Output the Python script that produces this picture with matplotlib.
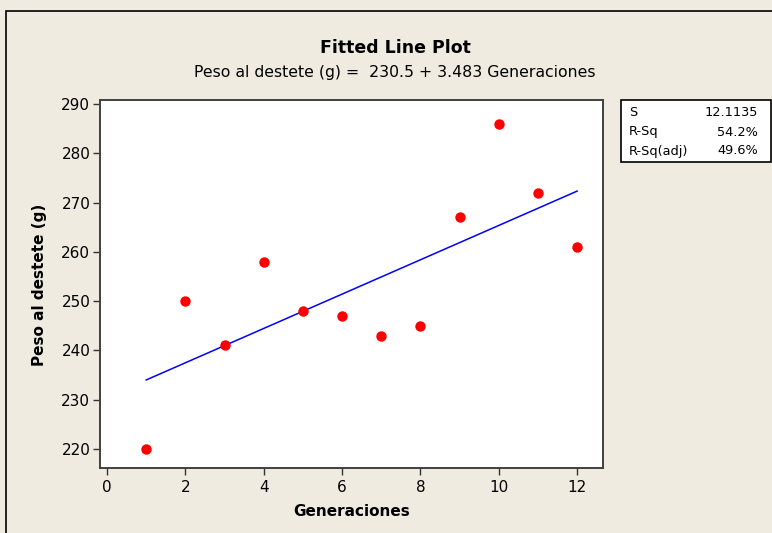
import numpy as np
import matplotlib
matplotlib.use("Agg")
import matplotlib.pyplot as plt
from matplotlib.patches import Rectangle

# datos
generaciones = [1, 2, 3, 4, 5, 6, 7, 8, 9, 10, 11, 12]
peso = [220, 250, 241, 258, 248, 247, 243, 245, 267, 286, 272, 261]
stat_names = ["S", "R-Sq", "R-Sq(adj)"]
stat_values = ["12.1135", "54.2%", "49.6%"]
x_ticks = [0, 2, 4, 6, 8, 10, 12]
y_ticks = [220, 230, 240, 250, 260, 270, 280, 290]

bg = "#EFEBE1"
plt.rcParams["font.family"] = ["DejaVu Sans"]

fig = plt.figure(figsize=(7.72, 5.33), dpi=100, facecolor=bg)
ax = fig.add_axes([100 / 772, 1 - 468 / 533, 503 / 772, 368 / 533])
ax.set_facecolor("white")

# recta ajustada
b, a = np.polyfit(generaciones, peso, 1)
xf = np.linspace(min(generaciones), max(generaciones), 50)
ax.plot(xf, a + b * xf, color="#0000FF", lw=1.1, zorder=2)
ax.plot(generaciones, peso, "o", color="#FF0000", ms=7.5, mec="none", zorder=3)

ax.set_xlim(-0.18, 12.66)
ax.set_ylim(216.15, 290.8)
ax.set_xticks(x_ticks)
ax.set_yticks(y_ticks)
ax.tick_params(direction="out", length=5, width=1, labelsize=11, color="#333333", pad=2)
ax.tick_params(axis="x", pad=4)
for sp in ax.spines.values():
    sp.set_color("#404040")
    sp.set_linewidth(1.4)

ax.set_xlabel("Generaciones", fontsize=11, fontweight="bold", labelpad=6)
fig.text(40 / 772, 1 - 285 / 533, "Peso al destete (g)", rotation=90, fontsize=11,
         fontweight="bold", ha="center", va="center")

fig.text(395 / 772, 1 - 48 / 533, "Fitted Line Plot", fontsize=12.5, fontweight="bold",
         ha="center", va="center")
fig.text(395 / 772, 1 - 72 / 533, "Peso al destete (g) =  %.1f + %.3f Generaciones" % (a, b),
         fontsize=11.3, ha="center", va="center")

# cuadro de estadisticos
fig.patches.append(Rectangle((621 / 772, 1 - 162 / 533), 150 / 772, 62 / 533,
                             transform=fig.transFigure, facecolor="white",
                             edgecolor="black", lw=1.2))
for i, (n, v) in enumerate(zip(stat_names, stat_values)):
    yy = 1 - (113 + i * 19) / 533
    fig.text(629 / 772, yy, n, fontsize=9.3, ha="left", va="center")
    fig.text(758 / 772, yy, v, fontsize=9.3, ha="right", va="center")

# marco exterior
fig.patches.append(Rectangle((6 / 772, -0.1), 1.2, 1.1 - 11 / 533,
                             transform=fig.transFigure, facecolor="none",
                             edgecolor="black", lw=1.2))

fig.savefig("out.png", dpi=100, facecolor=bg)
